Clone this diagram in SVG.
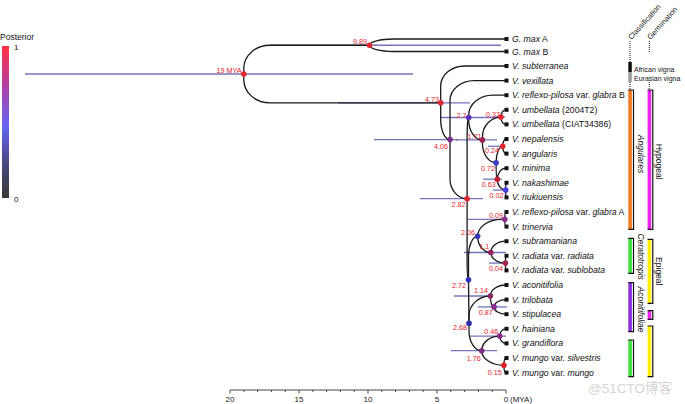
<svg xmlns="http://www.w3.org/2000/svg" width="685" height="404" viewBox="0 0 685 404">
<defs>
<linearGradient id="post" x1="0" y1="0" x2="0" y2="1">
<stop offset="0" stop-color="#ff3040"/>
<stop offset="0.27" stop-color="#b040a8"/>
<stop offset="0.53" stop-color="#6464f4"/>
<stop offset="0.77" stop-color="#484880"/>
<stop offset="1" stop-color="#383838"/>
</linearGradient>
<style>
.br{fill:none;stroke:#1a1a1a;stroke-width:1.3}
.hpd{stroke:#5d5db0;stroke-width:1.3;opacity:0.85}
.nl{font-family:"Liberation Sans",Arial,sans-serif;font-size:7.2px;fill:#e8202a;text-anchor:end}
.lf{font-family:"Liberation Sans",Arial,sans-serif;font-size:8.7px;fill:#111}
.it{font-style:italic}
.tip{fill:#111}
.ax{font-family:"Liberation Sans",Arial,sans-serif;font-size:8px;fill:#222;text-anchor:middle}
.cl{font-family:"Liberation Sans",Arial,sans-serif;font-size:8.5px;fill:#111;text-anchor:middle}
.hd{font-family:"Liberation Sans",Arial,sans-serif;font-size:8px;fill:#111}
.sm{font-family:"Liberation Sans",Arial,sans-serif;font-size:7px;fill:#111}
.bk{fill:none;stroke:#111;stroke-width:1.2}
.dot{stroke:#111;stroke-width:1;stroke-dasharray:1 1}
</style>
</defs>
<rect width="685" height="404" fill="#fff"/>

<!-- legend -->
<g id="legend">
<text x="0" y="40" class="hd" style="font-size:8.5px">Posterior</text>
<rect x="2" y="46" width="7" height="152" fill="url(#post)"/>
<text x="14" y="50" class="hd">1</text>
<text x="14" y="201.5" class="hd">0</text>
</g>

<!-- HPD bars -->
<g id="hpd">
<line class="hpd" x1="25" y1="74" x2="413" y2="74"/>
<line class="hpd" x1="270" y1="45.25" x2="501" y2="45.25"/>
<line class="hpd" x1="338" y1="102.8" x2="470" y2="102.8"/>
<line class="hpd" x1="374" y1="139.6" x2="458" y2="139.6"/>
<line class="hpd" x1="456" y1="139.9" x2="497" y2="139.9"/>
<line class="hpd" x1="440" y1="117.5" x2="501" y2="117.5"/>
<line class="hpd" x1="420" y1="198.7" x2="483" y2="198.7"/>
<line class="hpd" x1="496" y1="117.1" x2="505" y2="117.1"/>
<line class="hpd" x1="488" y1="146.3" x2="505" y2="146.3"/>
<line class="hpd" x1="483" y1="179.2" x2="502" y2="179.2"/>
<line class="hpd" x1="493" y1="190.1" x2="507" y2="190.1"/>
<line class="hpd" x1="468" y1="219.3" x2="507" y2="219.3"/>
<line class="hpd" x1="464" y1="252.5" x2="506" y2="252.5"/>
<line class="hpd" x1="489" y1="263.1" x2="507" y2="263.1"/>
<line class="hpd" x1="454" y1="296" x2="493" y2="296"/>
<line class="hpd" x1="478" y1="306.9" x2="507" y2="306.9"/>
<line class="hpd" x1="470" y1="336.1" x2="506" y2="336.1"/>
<line class="hpd" x1="451" y1="350.7" x2="497" y2="350.7"/>
</g>

<!-- connectors -->
<g id="edges" class="br">
<path d="M243.8,74 V68 A26,23 0 0 1 269.8,45.25 H369.5"/>
<path d="M243.8,74 V80 A26,23 0 0 0 269.8,102.8 H440.7"/>
<path d="M369.5,45.25 A24,6.25 0 0 1 393.5,39 H506"/>
<path d="M369.5,45.25 A24,6.25 0 0 0 393.5,51.5 H506"/>
<path d="M440.7,102.8 V86 A24,20 0 0 1 464.7,66 H506"/>
<path d="M440.7,102.8 V119.6 A9.3,20 0 0 0 450,139.6"/>
<path d="M450,139.6 V100.6 A24,20 0 0 1 474,80.6 H506"/>
<path d="M450,139.6 V178.7 A17.1,20 0 0 0 467.1,198.7"/>
<path d="M467.1,198.7 V137.5 A1.6,20 0 0 1 468.7,117.5"/>
<path d="M467.1,198.7 V259.8 A1.4,20 0 0 0 468.5,279.8"/>
<path d="M468.7,117.5 V115.2 A24,20 0 0 1 492.7,95.2 H506"/>
<path d="M468.7,117.5 V119.9 A13.7,20 0 0 0 482.4,139.9"/>
<path d="M482.4,139.9 V137.1 A18.5,20 0 0 1 500.9,117.1"/>
<path d="M482.4,139.9 V142.7 A13.7,20 0 0 0 496.1,162.7"/>
<path d="M500.9,117.1 A5.1,7.3 0 0 1 506,109.8"/>
<path d="M500.9,117.1 A5.1,7.3 0 0 0 506,124.4"/>
<path d="M496.1,162.7 A6.6,16.4 0 0 1 502.7,146.3"/>
<path d="M496.1,162.7 A1.2,16.5 0 0 0 497.3,179.2"/>
<path d="M502.7,146.3 A3.3,7.3 0 0 1 506,139"/>
<path d="M502.7,146.3 A3.3,7.3 0 0 0 506,153.6"/>
<path d="M497.3,179.2 A8.7,11 0 0 1 506,168.2"/>
<path d="M497.3,179.2 A8.4,10.9 0 0 0 505.7,190.1"/>
<path d="M505.7,190.1 V182.8 H506"/>
<path d="M505.7,190.1 V197.4 H506"/>
<path d="M468.5,279.8 V256.3 A9.1,20 0 0 1 477.6,236.3"/>
<path d="M468.5,279.8 L469,323.3"/>
<path d="M477.6,236.3 A24,17 0 0 1 501.6,219.3 H504.8"/>
<path d="M477.6,236.3 A13.2,16.2 0 0 0 490.8,252.5"/>
<path d="M504.8,219.3 A1.2,7.3 0 0 1 506,212"/>
<path d="M504.8,219.3 A1.2,7.3 0 0 0 506,226.6"/>
<path d="M490.8,252.5 A15.2,11.3 0 0 1 506,241.2"/>
<path d="M490.8,252.5 A14.6,10.6 0 0 0 505.4,263.1"/>
<path d="M505.4,263.1 A0.6,7.3 0 0 1 506,255.8"/>
<path d="M505.4,263.1 A0.6,7.3 0 0 0 506,270.4"/>
<path d="M469,323.3 V316 A21.3,20 0 0 1 490.3,296"/>
<path d="M469,323.3 V330.7 A12.7,20 0 0 0 481.7,350.7"/>
<path d="M490.3,296 A15.7,11 0 0 1 506,285"/>
<path d="M490.3,296 A3.7,10.9 0 0 0 494,306.9"/>
<path d="M494,306.9 A12,7.3 0 0 1 506,299.6"/>
<path d="M494,306.9 A12,7.3 0 0 0 506,314.2"/>
<path d="M481.7,350.7 A18,14.6 0 0 1 499.7,336.1"/>
<path d="M481.7,350.7 A22.2,14.6 0 0 0 503.9,365.3"/>
<path d="M499.7,336.1 A6.3,7.3 0 0 1 506,328.8"/>
<path d="M499.7,336.1 A6.3,7.3 0 0 0 506,343.4"/>
<path d="M503.9,365.3 A2.1,7.3 0 0 1 506,358"/>
<path d="M503.9,365.3 A2.1,7.3 0 0 0 506,372.6"/>
</g>

<!-- internal nodes -->
<g id="n19"><circle cx="243.8" cy="74" r="2.8" fill="#e3262e"/><text class="nl" x="241.5" y="72.5">19 MYA</text></g>
<g id="n989"><circle cx="369.5" cy="45.25" r="2.8" fill="#e3262e"/><text class="nl" x="367" y="43.5">9.89</text></g>
<g id="n473"><circle cx="440.7" cy="102.8" r="2.8" fill="#e3262e"/><text class="nl" x="439" y="101.5">4.73</text></g>
<g id="n406"><circle cx="450" cy="139.6" r="2.8" fill="#7b2d8e"/><text class="nl" x="448" y="149">4.06</text></g>
<g id="n282"><circle cx="467.1" cy="198.7" r="2.8" fill="#e3262e"/><text class="nl" x="465.5" y="207">2.82</text></g>
<g id="n27"><circle cx="468.7" cy="117.5" r="2.8" fill="#5a2fb8"/><text class="nl" x="466.5" y="118">2.7</text></g>
<g id="n171"><circle cx="482.4" cy="139.9" r="2.8" fill="#9a2356"/><text class="nl" x="481.5" y="138.5">1.71</text></g>
<g id="n037"><circle cx="500.9" cy="117.1" r="2.8" fill="#e3262e"/><text class="nl" x="500" y="116.5">0.37</text></g>
<g id="n024"><circle cx="502.7" cy="146.3" r="2.8" fill="#e3262e"/><text class="nl" x="499" y="152.5">0.24</text></g>
<g id="n072"><circle cx="496.1" cy="162.7" r="2.8" fill="#3b3bc8"/><text class="nl" x="495" y="170.5">0.72</text></g>
<g id="n063"><circle cx="497.3" cy="179.2" r="2.8" fill="#c8203a"/><text class="nl" x="495.7" y="187">0.63</text></g>
<g id="n002"><circle cx="505.7" cy="190.1" r="2.8" fill="#3c3ce0"/><text class="nl" x="503.5" y="197.5">0.02</text></g>
<g id="n272"><circle cx="468.5" cy="279.8" r="2.8" fill="#3232c0"/><text class="nl" x="466" y="288">2.72</text></g>
<g id="n206"><circle cx="477.6" cy="236.3" r="2.8" fill="#3535b5"/><text class="nl" x="475" y="235">2.06</text></g>
<g id="n009"><circle cx="504.8" cy="219.3" r="2.8" fill="#8a2a8a"/><text class="nl" x="503" y="217.5">0.09</text></g>
<g id="n11"><circle cx="490.8" cy="252.5" r="2.8" fill="#962058"/><text class="nl" x="489.3" y="249">1.1</text></g>
<g id="n004"><circle cx="505.4" cy="263.1" r="2.8" fill="#a52050"/><text class="nl" x="503" y="271">0.04</text></g>
<g id="n268"><circle cx="469" cy="323.3" r="2.8" fill="#2d2da8"/><text class="nl" x="467" y="330">2.68</text></g>
<g id="n114"><circle cx="490.3" cy="296" r="2.8" fill="#8c2468"/><text class="nl" x="488" y="293">1.14</text></g>
<g id="n087"><circle cx="494" cy="306.9" r="2.8" fill="#8a2a90"/><text class="nl" x="492.7" y="315">0.87</text></g>
<g id="n176"><circle cx="481.7" cy="350.7" r="2.8" fill="#7e2a86"/><text class="nl" x="480.7" y="361">1.76</text></g>
<g id="n046"><circle cx="499.7" cy="336.1" r="2.8" fill="#8a2a86"/><text class="nl" x="498.3" y="334">0.46</text></g>
<g id="n015"><circle cx="503.9" cy="365.3" r="2.8" fill="#e02020"/><text class="nl" x="501.7" y="374.5">0.15</text></g>

<!-- leaves -->
<g id="gmaxA"><rect class="tip" x="504.5" y="37" width="4" height="4"/><text class="lf" x="512" y="42"><tspan class="it">G. max</tspan> A</text></g>
<g id="gmaxB"><rect class="tip" x="504.5" y="49.5" width="4" height="4"/><text class="lf" x="512" y="54.5"><tspan class="it">G. max</tspan> B</text></g>
<g id="subterranea"><rect class="tip" x="504.5" y="64" width="4" height="4"/><text class="lf it" x="512" y="69">V. subterranea</text></g>
<g id="vexillata"><rect class="tip" x="504.5" y="78.6" width="4" height="4"/><text class="lf it" x="512" y="83.6">V. vexillata</text></g>
<g id="reflexoB"><rect class="tip" x="504.5" y="93.2" width="4" height="4"/><text class="lf" x="512" y="98.2"><tspan class="it">V. reflexo-pilosa</tspan> var. <tspan class="it">glabra</tspan> B</text></g>
<g id="umb1"><rect class="tip" x="504.5" y="107.8" width="4" height="4"/><text class="lf" x="512" y="112.8"><tspan class="it">V. umbellata</tspan> (2004T2)</text></g>
<g id="umb2"><rect class="tip" x="504.5" y="122.4" width="4" height="4"/><text class="lf" x="512" y="127.4"><tspan class="it">V. umbellata</tspan> (CIAT34386)</text></g>
<g id="nepalensis"><rect class="tip" x="504.5" y="137" width="4" height="4"/><text class="lf it" x="512" y="142">V. nepalensis</text></g>
<g id="angularis"><rect class="tip" x="504.5" y="151.6" width="4" height="4"/><text class="lf it" x="512" y="156.6">V. angularis</text></g>
<g id="minima"><rect class="tip" x="504.5" y="166.2" width="4" height="4"/><text class="lf it" x="512" y="171.2">V. minima</text></g>
<g id="nakashimae"><rect class="tip" x="504.5" y="180.8" width="4" height="4"/><text class="lf it" x="512" y="185.8">V. nakashimae</text></g>
<g id="riukiuensis"><rect class="tip" x="504.5" y="195.4" width="4" height="4"/><text class="lf it" x="512" y="200.4">V. riukiuensis</text></g>
<g id="reflexoA"><rect class="tip" x="504.5" y="210" width="4" height="4"/><text class="lf" x="512" y="215"><tspan class="it">V. reflexo-pilosa</tspan> var. <tspan class="it">glabra</tspan> A</text></g>
<g id="trinervia"><rect class="tip" x="504.5" y="224.6" width="4" height="4"/><text class="lf it" x="512" y="229.6">V. trinervia</text></g>
<g id="subramaniana"><rect class="tip" x="504.5" y="239.2" width="4" height="4"/><text class="lf it" x="512" y="244.2">V. subramaniana</text></g>
<g id="radiata"><rect class="tip" x="504.5" y="253.8" width="4" height="4"/><text class="lf" x="512" y="258.8"><tspan class="it">V. radiata</tspan> var. <tspan class="it">radiata</tspan></text></g>
<g id="sublobata"><rect class="tip" x="504.5" y="268.4" width="4" height="4"/><text class="lf" x="512" y="273.4"><tspan class="it">V. radiata</tspan> var. <tspan class="it">sublobata</tspan></text></g>
<g id="aconitifolia"><rect class="tip" x="504.5" y="283" width="4" height="4"/><text class="lf it" x="512" y="288">V. aconitifolia</text></g>
<g id="trilobata"><rect class="tip" x="504.5" y="297.6" width="4" height="4"/><text class="lf it" x="512" y="302.6">V. trilobata</text></g>
<g id="stipulacea"><rect class="tip" x="504.5" y="312.2" width="4" height="4"/><text class="lf it" x="512" y="317.2">V. stipulacea</text></g>
<g id="hainiana"><rect class="tip" x="504.5" y="326.8" width="4" height="4"/><text class="lf it" x="512" y="331.8">V. hainiana</text></g>
<g id="grandiflora"><rect class="tip" x="504.5" y="341.4" width="4" height="4"/><text class="lf it" x="512" y="346.4">V. grandiflora</text></g>
<g id="silvestris"><rect class="tip" x="504.5" y="356" width="4" height="4"/><text class="lf" x="512" y="361"><tspan class="it">V. mungo</tspan> var. <tspan class="it">silvestris</tspan></text></g>
<g id="mungo"><rect class="tip" x="504.5" y="370.6" width="4" height="4"/><text class="lf" x="512" y="375.6"><tspan class="it">V. mungo</tspan> var. <tspan class="it">mungo</tspan></text></g>

<!-- right-hand annotation columns -->
<g id="headers">
<text class="hd" x="631.5" y="40" style="font-size:7.5px" transform="rotate(-48 631.5 40)">Classification</text>
<text class="hd" x="650.5" y="40" style="font-size:7.5px" transform="rotate(-48 650.5 40)">Germination</text>
<line class="dot" x1="630" y1="41" x2="630" y2="62"/>
<rect x="628.3" y="62" width="3.5" height="10" fill="#111"/>
<rect x="628.3" y="72" width="3.5" height="10" fill="#9a9a9a"/>
<line class="dot" x1="630" y1="82" x2="630" y2="90"/>
<line class="dot" x1="649.3" y1="41" x2="649.3" y2="53"/>
<line class="dot" x1="649.3" y1="82" x2="649.3" y2="90"/>
<text class="sm" x="634" y="72">African vigna</text>
<text class="sm" x="634" y="81">Eurasian vigna</text>
</g>
<g id="angulares">
<rect x="628.3" y="90" width="3.6" height="139.3" fill="#f07a1e"/>
<path class="bk" d="M628.3,90 H633.5 V229.3 H628.3"/>
<text class="cl it" x="637.5" y="154" transform="rotate(90 637.5 154)">Angulares</text>
</g>
<g id="ceratotropis">
<rect x="628.3" y="238.3" width="3.6" height="35" fill="#3ee23e"/>
<path class="bk" d="M628.3,238.3 H633.5 V273.3 H628.3"/>
<text class="cl it" x="637.5" y="256.7" transform="rotate(90 637.5 256.7)">Ceratotropis</text>
</g>
<g id="aconitifoliae">
<rect x="628.3" y="282.7" width="3.6" height="49" fill="#8a30e0"/>
<path class="bk" d="M628.3,282.7 H633.5 V331.7 H628.3"/>
<text class="cl it" x="637.5" y="309.5" transform="rotate(90 637.5 309.5)">Aconitifoliae</text>
</g>
<g id="cerato2">
<rect x="628.3" y="340" width="3.6" height="36.7" fill="#3ee23e"/>
<path class="bk" d="M628.3,340 H633.5 V376.7 H628.3"/>
</g>
<g id="hypogeal">
<rect x="647.6" y="90" width="3.6" height="139.3" fill="#ee22ee"/>
<path class="bk" d="M647.6,90 H652.8 V229.3 H647.6"/>
<text class="cl" x="656" y="161.7" transform="rotate(90 656 161.7)">Hypogeal</text>
</g>
<g id="epigeal">
<rect x="647.6" y="239.3" width="3.6" height="64" fill="#fff000"/>
<path class="bk" d="M647.6,239.3 H652.8 V303.3 H647.6"/>
<text class="cl" x="656" y="271.3" transform="rotate(90 656 271.3)">Epigeal</text>
</g>
<g id="hypogeal2">
<rect x="647.6" y="310.7" width="3.6" height="8.6" fill="#ee22ee"/>
<path class="bk" d="M647.6,310.7 H652.8 V319.3 H647.6"/>
</g>
<g id="epigeal2">
<rect x="647.6" y="326" width="3.6" height="50.7" fill="#fff000"/>
<path class="bk" d="M647.6,326 H652.8 V376.7 H647.6"/>
</g>

<!-- axis -->
<g id="axis" stroke="#333" stroke-width="0.9">
<line x1="230" y1="390" x2="506" y2="390"/>
<path d="M230,390v3.5M244,390v2M257.6,390v2M271.4,390v2M285.2,390v2M299,390v3.5M312.8,390v2M326.6,390v2M340.4,390v2M354.2,390v2M368,390v3.5M381.8,390v2M395.6,390v2M409.4,390v2M423.2,390v2M437,390v3.5M450.8,390v2M464.6,390v2M478.4,390v2M492.2,390v2M506,390v3.5"/>
</g>
<g id="axislabels">
<text class="ax" x="230" y="402">20</text>
<text class="ax" x="299" y="402">15</text>
<text class="ax" x="368" y="402">10</text>
<text class="ax" x="437" y="402">5</text>
<text class="ax" x="506" y="402">0</text>
<text class="ax" x="510" y="402" style="text-anchor:start">(MYA)</text>
</g>

<text x="588" y="393" style="font-family:'Liberation Sans','Noto Sans CJK SC',sans-serif;font-size:13.5px;fill:#d4d4d4">@51CTO博客</text>
</svg>
